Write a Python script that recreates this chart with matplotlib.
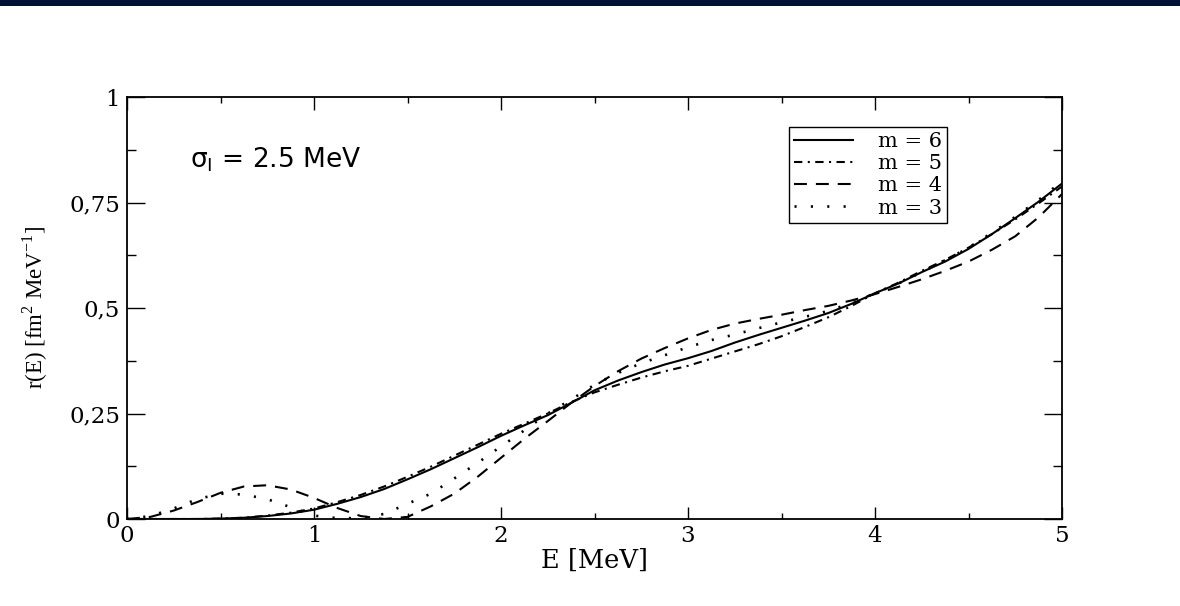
import matplotlib
matplotlib.use("Agg")
import matplotlib.pyplot as plt
from matplotlib.patches import Rectangle
from matplotlib.ticker import FixedLocator, MultipleLocator, FuncFormatter

# energy grid [MeV] and response curves
energy = [0, 0.125, 0.25, 0.375, 0.5, 0.625, 0.75, 0.875, 1.0, 1.125, 1.25, 1.375,
          1.5, 1.625, 1.75, 1.875, 2.0, 2.125, 2.25, 2.375, 2.5, 2.625, 2.75, 2.875,
          3.0, 3.125, 3.25, 3.375, 3.5, 3.625, 3.75, 3.875, 4.0, 4.125, 4.25, 4.375,
          4.5, 4.625, 4.75, 4.875, 5.0]

r_m6 = [0, 0, 0, 0, 0.001, 0.003, 0.007, 0.013, 0.022, 0.036, 0.052, 0.071,
        0.094, 0.118, 0.144, 0.170, 0.197, 0.222, 0.246, 0.275, 0.305, 0.328, 0.348, 0.366,
        0.381, 0.398, 0.418, 0.436, 0.453, 0.470, 0.488, 0.510, 0.535, 0.558, 0.585, 0.610,
        0.640, 0.675, 0.713, 0.752, 0.795]

r_m5 = [0, 0, 0, 0, 0.001, 0.003, 0.008, 0.015, 0.025, 0.040, 0.057, 0.077,
        0.100, 0.124, 0.150, 0.176, 0.202, 0.226, 0.250, 0.277, 0.300, 0.318, 0.335, 0.350,
        0.363, 0.380, 0.397, 0.414, 0.433, 0.455, 0.478, 0.505, 0.535, 0.560, 0.588, 0.614,
        0.643, 0.675, 0.710, 0.748, 0.788]

r_m4 = [0, 0.005, 0.020, 0.040, 0.062, 0.077, 0.080, 0.070, 0.050, 0.026, 0.007, 0.0,
        0.005, 0.030, 0.060, 0.100, 0.145, 0.190, 0.232, 0.275, 0.315, 0.350, 0.380, 0.405,
        0.428, 0.448, 0.463, 0.474, 0.484, 0.495, 0.505, 0.518, 0.533, 0.550, 0.568, 0.588,
        0.610, 0.638, 0.670, 0.715, 0.770]

r_m3 = [0, 0.007, 0.025, 0.047, 0.060, 0.058, 0.047, 0.028, 0.008, 0.002, 0.002, 0.012,
        0.036, 0.060, 0.096, 0.133, 0.172, 0.210, 0.250, 0.283, 0.318, 0.346, 0.369, 0.388,
        0.407, 0.424, 0.437, 0.452, 0.466, 0.479, 0.493, 0.512, 0.535, 0.558, 0.585, 0.613,
        0.643, 0.678, 0.716, 0.756, 0.800]

labels = ["m = 6", "m = 5", "m = 4", "m = 3"]
y_ticks = [0, 0.25, 0.5, 0.75, 1.0]
y_tick_labels = ["0", "0,25", "0,5", "0,75", "1"]

WIDE_SERIF = ["DejaVu Serif"]
SERIF = ["Liberation Serif", "DejaVu Serif"]

fig = plt.figure(figsize=(11.8, 6.06), dpi=100)
fig.patches.append(Rectangle((0, 1 - 6 / 606), 1, 6 / 606, transform=fig.transFigure,
                             facecolor="#011135", edgecolor="none", zorder=0))

ax = fig.add_axes([127 / 1180, 1 - 519 / 606, 935 / 1180, 422 / 606])

# (linestyle, linewidth) per curve
styles = [("-", 1.5), ((0, (4, 2.6, 1, 2.6)), 1.5), ((0, (6.2, 4.3)), 1.5), ((0, (0.8, 5.4)), 1.9)]
for y, lab, (ls, lw) in zip([r_m6, r_m5, r_m4, r_m3], labels, styles):
    ax.plot(energy, y, color="black", linewidth=lw, linestyle=ls, label=lab)

ax.set_xlim(0, 5)
ax.set_ylim(0, 1)
ax.xaxis.set_major_locator(MultipleLocator(1))
ax.xaxis.set_minor_locator(MultipleLocator(0.5))
ax.yaxis.set_major_locator(FixedLocator(y_ticks))
ax.yaxis.set_minor_locator(MultipleLocator(0.125))
ax.yaxis.set_major_formatter(FuncFormatter(lambda v, pos: y_tick_labels[y_ticks.index(round(v, 3))]))
ax.xaxis.set_major_formatter(FuncFormatter(lambda v, pos: "%d" % v))

ax.tick_params(axis="both", which="both", direction="in", top=True, right=True,
               width=1.0, colors="black")
ax.tick_params(axis="x", which="major", length=9, pad=4)
ax.tick_params(axis="x", which="minor", length=4.5)
ax.tick_params(axis="y", which="major", length=13, pad=5)
ax.tick_params(axis="y", which="minor", length=6.5)
for lab in ax.get_xticklabels() + ax.get_yticklabels():
    lab.set_family(WIDE_SERIF)
    lab.set_fontsize(16.5)
for s in ax.spines.values():
    s.set_linewidth(1.3)

ax.set_xlabel("E [MeV]", family=WIDE_SERIF, fontsize=18.5, labelpad=1)
ax.set_ylabel(r"r(E) [fm$^\mathregular{2}$ MeV$^\mathregular{-1}$]", family=SERIF,
              fontsize=16.5, labelpad=14)

ax.text(190, 606 - 160, r"σ$_\mathregular{I}$ = 2.5 MeV", transform=None, fontsize=19,
        family="DejaVu Sans", va="center", ha="left")

leg = ax.legend(loc="upper right", bbox_to_anchor=((947 - 127) / 935, (519 - 127) / 422),
                borderaxespad=0, fancybox=False, edgecolor="black", framealpha=1,
                prop={"family": WIDE_SERIF, "size": 15}, handlelength=2.8,
                handletextpad=1.2, labelspacing=0.15, borderpad=0.25)
leg.get_frame().set_linewidth(1.0)

fig.savefig("out.png", dpi=100)
